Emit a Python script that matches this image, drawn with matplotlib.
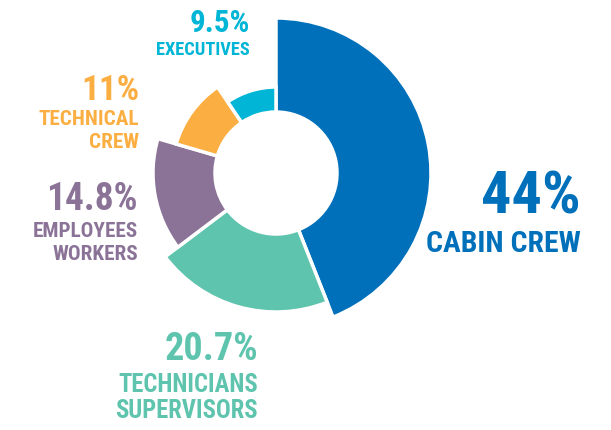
import matplotlib
matplotlib.use("Agg")
import matplotlib.pyplot as plt
from matplotlib.patches import Wedge

# data, clockwise from 12 o'clock
labels = ["CABIN CREW", "TECHNICIANS\nSUPERVISORS", "EMPLOYEES\nWORKERS", "TECHNICAL\nCREW", "EXECUTIVES"]
shares = [44.0, 20.7, 14.8, 11.0, 9.5]
pct_text = ["44%", "20.7%", "14.8%", "11%", "9.5%"]
colors = ["#0070ba", "#5ec4ae", "#8b7398", "#fbae42", "#00b5d5"]
outer_r = [155, 139, 123, 104, 86]

W, H = 611, 430
cx, cy = 276, H - 173
hole = 61

fig = plt.figure(figsize=(6.11, 4.30), dpi=100)
ax = fig.add_axes([0, 0, 1, 1])
ax.set_xlim(0, W)
ax.set_ylim(0, H)
ax.set_aspect("equal")
ax.axis("off")

start = 90.0
for val, col, r in zip(shares, colors, outer_r):
    end = start - val * 3.6
    ax.add_patch(Wedge((cx, cy), r, end, start, width=r - hole,
                       facecolor=col, edgecolor="white", linewidth=2.5))
    start = end

font = ["Roboto Condensed", "DejaVu Sans"]

# (x right edge, baseline of pct, pct size, baseline first label line, label size, line gap)
layout = [
    (581, H - 213, 43.5, H - 252, 21.3, 0),
    (258, H - 360, 27.5, H - 392, 17.7, 26),
    (138, H - 210, 27, H - 237, 15.2, 23),
    (139, H - 100, 25.3, H - 125, 15.2, 23),
    (250, H - 32, 22.3, H - 55, 13.2, 0),
]

for (x, yp, sp, yl, sl, gap), pt, lab, col in zip(layout, pct_text, labels, colors):
    ax.text(x, yp, pt, ha="right", va="baseline", fontsize=sp,
            fontweight="bold", color=col, family=font)
    for i, line in enumerate(lab.split("\n")):
        ax.text(x, yl - i * gap, line, ha="right", va="baseline", fontsize=sl,
                fontweight="bold", color=col, family=font)

fig.savefig("out.png", dpi=100)
